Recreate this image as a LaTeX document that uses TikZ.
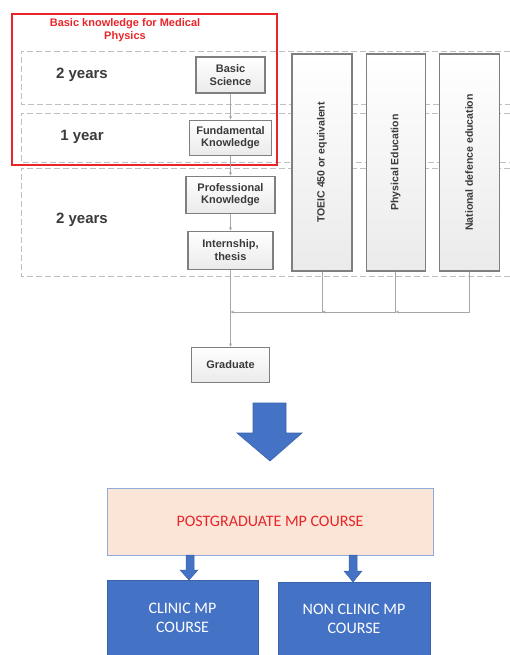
\documentclass[tikz,border=0pt]{standalone}
\usepackage{fontspec}
\setmainfont{Liberation Sans}
\newfontfamily\calibri{Carlito}
\usepackage{tikz}
\usetikzlibrary
  {
    arrows.meta,              % small arrow heads
    positioning,              % place nodes relative to other nodes
    calc,
  }

\definecolor{boxgray}{HTML}{7F7F7F}
\definecolor{txtgray}{HTML}{3A3A3A}
\definecolor{linegray}{HTML}{A6A6A6}
\definecolor{dashgray}{HTML}{BFBFBF}
\definecolor{mpblue}{HTML}{4472C4}
\definecolor{mpedge}{HTML}{3A62AA}
\definecolor{peach}{HTML}{FBE5D6}
\definecolor{peachedge}{HTML}{8FAADC}
\definecolor{kred}{HTML}{E8262A}

\begin{document}
\begin{tikzpicture}[x=1pt,y=-1pt,inner sep=0,
    stage/.style={draw=boxgray, line width=1.1pt, top color=white, bottom color=gray!16,
                  text=txtgray, align=center, font=\bfseries\fontsize{11}{12.5}\selectfont},
    side/.style={stage, minimum width=60pt, minimum height=217pt,
                 font=\bfseries\fontsize{10.5}{12}\selectfont},
    band/.style={dashgray, line width=0.9pt, dash pattern=on 6pt off 3pt},
    conn/.style={linegray, line width=0.8pt, -{Stealth[length=3.5pt,width=3pt]}},
    years/.style={text=txtgray, font=\bfseries\fontsize{15}{17}\selectfont},
    course/.style={fill=mpblue, draw=mpedge, line width=0.6pt, text=white, align=center,
                   font=\calibri\fontsize{16}{18.5}\selectfont},
  ]
    \useasboundingbox (0,0) rectangle (510,655);

    % study periods
    \draw[band] (510,51) -- (21,51) -- (21,104) -- (510,104);
    \draw[band] (510,113) -- (21,113) -- (21,162) -- (510,162);
    \draw[band] (510,168) -- (21,168) -- (21,276) -- (510,276);
    \node[years] (yrA) at (82,75) {2 years};
    \node[years] (yrB) at (82,137) {1 year};
    \node[years] (yrC) at (82,220) {2 years};

    \draw[kred, line width=1.3pt] (12,14) rectangle (277,165);
    \node[text=kred, align=center, font=\bfseries\fontsize{11}{12.5}\selectfont] (title)
         at (125,30) {Basic knowledge for Medical\\Physics};

    % main line
    \node (basic) [stage, minimum width=69pt, minimum height=36pt] at (230.5,75) {Basic\\Science};
    \node (fund) [stage, minimum width=82pt, minimum height=35pt, below=26pt of basic] {Fundamental\\Knowledge};
    \node (prof) [stage, minimum width=89pt, minimum height=37pt, below=20pt of fund] {Professional\\Knowledge};
    \node (intern) [stage, minimum width=85pt, minimum height=38pt, below=17pt of prof] {Internship,\\thesis};
    \node (grad) [stage, minimum width=78pt, minimum height=35pt, below=77pt of intern] {Graduate};

    % side subjects
    \node (toeic) [side] at (322,162.5) {\rotatebox{90}{TOEIC 450 or equivalent}};
    \node (phys) [side, minimum width=59pt, right=13pt of toeic] {\rotatebox{90}{Physical Education}};
    \node (nat) [side, right=13pt of phys] {\rotatebox{90}{National defence education}};

    \draw[conn] (basic) -- (fund);
    \draw[conn] (fund) -- (prof);
    \draw[conn] (prof) -- (intern);
    \draw[conn] (intern) -- (grad);
    \coordinate (lvl) at (0,312);
    \draw[conn] (nat.south) |- (phys.south |- lvl);
    \draw[conn] (phys.south) |- (toeic.south |- lvl);
    \draw[conn] (toeic.south) |- (intern.south |- lvl);

    % postgraduate part
    \draw[mpedge, fill=mpblue, line width=0.6pt]
         (253,403) -- (286,403) -- (286,433) -- (302,433) -- (270,461)
         -- (237,433) -- (253,433) -- cycle;
    \node (pg) [draw=peachedge, fill=peach, line width=1pt, minimum width=326pt, minimum height=67pt,
                text=kred, font=\calibri\fontsize{16}{18}\selectfont] at (270,521.5) {POSTGRADUATE MP COURSE};
    \node (clinic) [course, minimum width=151pt, minimum height=76pt] at (182.5,618) {CLINIC MP\\COURSE};
    \node (nonclinic) [course, minimum width=152pt, minimum height=74pt] at (354,619) {NON CLINIC MP\\COURSE};
    \draw[mpedge, fill=mpblue, line width=0.5pt]
         (186,555) -- (194,555) -- (194,570) -- (198,570) -- (189,580)
         -- (180,570) -- (186,570) -- cycle;
    \draw[mpedge, fill=mpblue, line width=0.5pt]
         (349,555) -- (357,555) -- (357,571) -- (362,571) -- (353,582)
         -- (344,571) -- (349,571) -- cycle;
\end{tikzpicture}
\end{document}
